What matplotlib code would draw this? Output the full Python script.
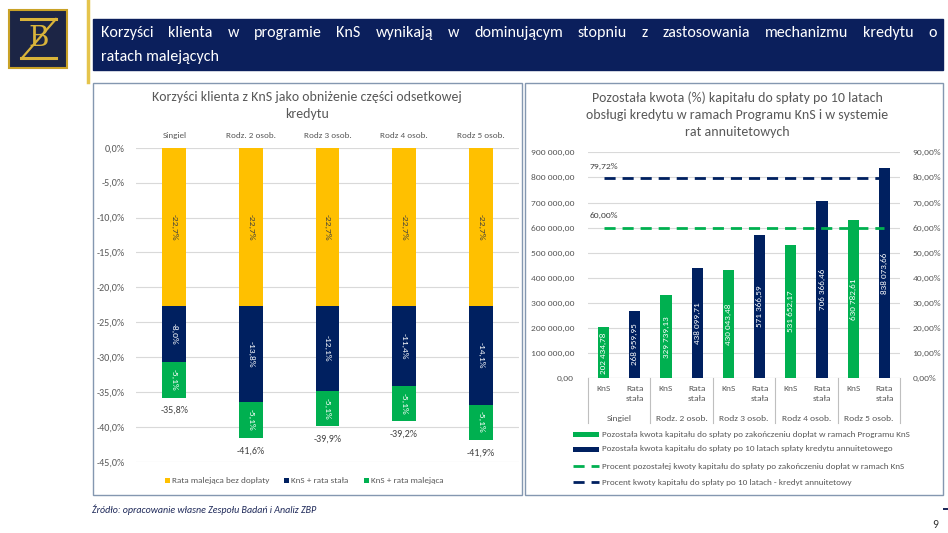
import matplotlib
matplotlib.use("Agg")
import matplotlib.pyplot as plt
from matplotlib import font_manager as fm
from matplotlib.patches import Rectangle
from matplotlib.lines import Line2D
import numpy as np

# ---------------- data ----------------
groups = ["Singiel", "Rodz. 2 osob.", "Rodz 3 osob.", "Rodz 4 osob.", "Rodz 5 osob."]
rata_malejaca_bez = [-22.7, -22.7, -22.7, -22.7, -22.7]
kns_rata_stala = [-8.0, -13.8, -12.1, -11.4, -14.1]
kns_rata_malejaca = [-5.1, -5.1, -5.1, -5.1, -5.1]
left_legend = ["Rata malejąca bez dopłaty", "KnS + rata stała", "KnS + rata malejąca"]

groups_right = ["Singiel", "Rodz. 2 osob.", "Rodz 3 osob.", "Rodz 4 osob.", "Rodz 5 osob."]
kns_kwota = [202434.78, 329739.13, 430043.48, 531652.17, 630782.61]
annuity_kwota = [268959.95, 438099.71, 571366.59, 706366.46, 838073.66]
pct_kns = [60.00] * 10
pct_annuity = [79.72] * 10
sub_labels = ["KnS", "Rata\nstała"]
right_legend = [
    "Pozostała kwota kapitału do spłaty po zakończeniu dopłat w ramach Programu KnS",
    "Pozostała kwota kapitału do spłaty po 10 latach spłaty kredytu annuitetowego",
    "Procent pozostałej kwoty kapitału do spłaty po zakończeniu dopłat w ramach KnS",
    "Procent kwoty kapitału do spłaty po 10 latach - kredyt annuitetowy",
]

title_main = ("Korzyści klienta w programie KnS wynikają w dominującym stopniu z zastosowania mechanizmu kredytu o",
              "ratach malejących")
title_left = "Korzyści klienta z KnS jako obniżenie części odsetkowej\nkredytu"
title_right = "Pozostała kwota (%) kapitału do spłaty po 10 latach\nobsługi kredytu w ramach Programu KnS i w systemie\nrat annuitetowych"
source = "Źródło: opracowanie własne Zespołu Badań i Analiz ZBP"
page_no = "9"

# ---------------- fonts / colours ----------------
def pick(names):
    for n in names:
        try:
            fm.findfont(fm.FontProperties(family=n), fallback_to_default=False)
            return n
        except Exception:
            pass
    return "DejaVu Sans"

FONT = pick(["Carlito", "Lato", "Open Sans"])
NARROW = pick(["Carlito", "Liberation Sans Narrow", "Lato"])
plt.rcParams["font.family"] = [FONT, "DejaVu Sans"]

YEL = "#FFC000"
NAVY = "#002060"
GREEN = "#00B050"
GRAY = "#595959"
GRID = "#D9D9D9"
BORDER = "#8497B0"

W, H = 948, 533
fig = plt.figure(figsize=(W / 100, H / 100), dpi=100)
fig.patch.set_facecolor("white")

def fx(x):
    return x / W

def fy(y):
    return 1 - y / H

def axes_px(x0, y0, x1, y1):
    return fig.add_axes([fx(x0), fy(y1), fx(x1 - x0), (y1 - y0) / H])

# ---------------- decorations ----------------
# logo
fig.patches.append(Rectangle((fx(9), fy(68)), fx(58), 58 / H, transform=fig.transFigure,
                             facecolor="#1C2545", edgecolor="#C9A227", lw=1.5))
fig.lines.append(Line2D([fx(21), fx(56)], [fy(19), fy(19)], transform=fig.transFigure, color="#D9B43A", lw=2.2))
fig.lines.append(Line2D([fx(56), fx(22)], [fy(19), fy(58)], transform=fig.transFigure, color="#D9B43A", lw=1.6))
fig.lines.append(Line2D([fx(21), fx(56)], [fy(58), fy(58)], transform=fig.transFigure, color="#D9B43A", lw=2.2))
fig.text(fx(39), fy(39), "B", color="#D9B43A", fontsize=20, family="DejaVu Serif",
         ha="center", va="center")
# gold vertical line
fig.lines.append(Line2D([fx(88), fx(88)], [fy(0), fy(82)], transform=fig.transFigure, color="#E5C44C", lw=2.5))

# banner
fig.patches.append(Rectangle((fx(93), fy(70)), fx(850), 51 / H, transform=fig.transFigure,
                             facecolor="#0B1F5C", edgecolor="#0B1F5C"))

fig.canvas.draw()
r = fig.canvas.get_renderer()
BS = 11.5
words = title_main[0].split()
ts = [fig.text(0, fy(33), w, color="white", fontsize=BS, family=NARROW, va="center") for w in words]
widths = [t.get_window_extent(r).width for t in ts]
x0, x1 = 101, 937
gap = (x1 - x0 - sum(widths)) / (len(words) - 1)
xx = x0
for t, w in zip(ts, widths):
    t.set_x(fx(xx))
    xx += w + gap
fig.text(fx(101), fy(57), title_main[1], color="white", fontsize=BS, family=NARROW, va="center")

# panels
for (a, b) in [(93, 522), (525, 943)]:
    fig.patches.append(Rectangle((fx(a), fy(495)), fx(b - a), (495 - 83) / H, transform=fig.transFigure,
                                 facecolor="none", edgecolor=BORDER, lw=1.0))

# footer
fig.text(fx(92), fy(510), source, fontsize=7.2, style="italic", color="#1F2A5A", va="center")
fig.text(fx(935), fy(524), page_no, fontsize=8.5, color="#333333", ha="center", va="center")
fig.patches.append(Rectangle((fx(943), fy(510)), fx(5), 2 / H, transform=fig.transFigure,
                             facecolor="#1F2A5A", edgecolor="none"))

# ---------------- left chart ----------------
axL = axes_px(136, 147.7, 519, 461.8)
x = np.arange(len(groups))
bw = 0.31
b1 = np.array(rata_malejaca_bez)
b2 = np.array(kns_rata_stala)
b3 = np.array(kns_rata_malejaca)
axL.bar(x, b1, bw, color=YEL, zorder=3, label=left_legend[0])
axL.bar(x, b2, bw, bottom=b1, color=NAVY, zorder=3, label=left_legend[1])
axL.bar(x, b3, bw, bottom=b1 + b2, color=GREEN, zorder=3, label=left_legend[2])

def pct1(v):
    return f"{v:.1f}%".replace(".", ",")

for i in range(len(groups)):
    axL.text(x[i], b1[i] / 2, pct1(b1[i]), rotation=-90, ha="center", va="center",
             fontsize=6.8, color="#404040", zorder=4)
    axL.text(x[i], b1[i] + b2[i] / 2, pct1(b2[i]), rotation=-90, ha="center", va="center",
             fontsize=6.8, color="white", zorder=4)
    axL.text(x[i], b1[i] + b2[i] + b3[i] / 2, pct1(b3[i]), rotation=-90, ha="center", va="center",
             fontsize=6.8, color="white", zorder=4)
    tot = b1[i] + b2[i] + b3[i]
    axL.annotate(pct1(tot), (x[i], tot), xytext=(0, -13), textcoords="offset pixels",
                 ha="center", va="center", fontsize=7.2, color="#404040")

axL.set_ylim(-45, 0)
axL.set_xlim(-0.5, len(groups) - 0.5)
axL.set_yticks(np.arange(-45, 0.1, 5))
axL.set_yticklabels([pct1(v) if v != 0 else "0,0%" for v in np.arange(-45, 0.1, 5)])
axL.tick_params(axis="y", length=0, labelsize=7.2, labelcolor=GRAY, pad=8)
axL.xaxis.tick_top()
axL.set_xticks(x)
axL.set_xticklabels(groups)
axL.tick_params(axis="x", length=0, labelsize=6.6, labelcolor=GRAY, pad=6)
axL.grid(axis="y", color=GRID, lw=0.8, zorder=0)
for s in axL.spines.values():
    s.set_visible(False)
axL.set_facecolor("none")
fig.text(fx(307), fy(105.5), title_left, ha="center", va="center", fontsize=10, color=GRAY,
         linespacing=1.5)

# left legend
leg_items = [(165, YEL, left_legend[0]), (284, NAVY, left_legend[1]), (364, GREEN, left_legend[2])]
for lx, c, lab in leg_items:
    fig.patches.append(Rectangle((fx(lx), fy(483)), fx(5), 5 / H, transform=fig.transFigure,
                                 facecolor=c, edgecolor="none"))
    fig.text(fx(lx + 7), fy(480.5), lab, fontsize=6.6, color=GRAY, va="center")

# ---------------- right chart ----------------
axR = axes_px(588, 152.3, 900, 378.3)
n = len(groups_right)
pos_k = np.arange(n) * 2
pos_a = np.arange(n) * 2 + 1
rw = 0.36
axR.bar(pos_k, kns_kwota, rw, color=GREEN, zorder=3)
axR.bar(pos_a, annuity_kwota, rw, color=NAVY, zorder=3)

def money(v):
    return f"{v:,.2f}".replace(",", " ").replace(".", ",")

for p, v in zip(pos_k, kns_kwota):
    axR.text(p, v / 2, money(v), rotation=90, ha="center", va="center", fontsize=6.6, color="white", zorder=4)
for p, v in zip(pos_a, annuity_kwota):
    axR.text(p, v / 2, money(v), rotation=90, ha="center", va="center", fontsize=6.6, color="white", zorder=4)

axR.set_ylim(0, 900000)
axR.set_xlim(-0.5, 2 * n - 0.5)
yt = np.arange(0, 900001, 100000)
axR.set_yticks(yt)
axR.set_yticklabels([money(v) for v in yt])
axR.tick_params(axis="y", length=0, labelsize=6.8, labelcolor=GRAY, pad=10)
axR.grid(axis="y", color=GRID, lw=0.8, zorder=0)
for s in axR.spines.values():
    s.set_visible(False)
axR.set_xticks([])
axR.axhline(0, color="#BFBFBF", lw=0.8, zorder=2)
axR.set_facecolor("none")

# multi-level x labels
trans = axR.get_xaxis_transform()
for i in range(2 * n):
    axR.annotate(sub_labels[i % 2], (i, 0), xycoords=trans, xytext=(0, -7), textcoords="offset pixels",
                 ha="center", va="top", fontsize=6.8, color=GRAY, linespacing=1.45, annotation_clip=False)
for g in range(n):
    axR.annotate(groups_right[g], (2 * g + 0.5, 0), xycoords=trans, xytext=(0, -40),
                 textcoords="offset pixels", ha="center", va="center", fontsize=6.8, color=GRAY,
                 annotation_clip=False)
for b in range(n + 1):
    axR.plot([2 * b - 0.5, 2 * b - 0.5], [0, -45 / 226], transform=trans, color="#BFBFBF",
             lw=0.8, clip_on=False)

axR2 = axR.twinx()
xs = np.arange(2 * n)
axR2.plot(xs[: len(pct_annuity)], pct_annuity, color=NAVY, lw=2, ls=(0, (4, 2.5)), zorder=5)
axR2.plot(xs[: len(pct_kns)], pct_kns, color=GREEN, lw=2, ls=(0, (4, 2.5)), zorder=5)
axR2.set_ylim(0, 90)
yt2 = np.arange(0, 91, 10)
axR2.set_yticks(yt2)
axR2.set_yticklabels([f"{v:.2f}%".replace(".", ",") for v in yt2])
axR2.tick_params(axis="y", length=0, labelsize=6.8, labelcolor=GRAY, pad=9)
for s in axR2.spines.values():
    s.set_visible(False)
axR2.annotate(f"{pct_annuity[0]:.2f}%".replace(".", ","), (0, pct_annuity[0]), xytext=(0, 12),
              textcoords="offset pixels", ha="center", va="center", fontsize=6.8, color="#404040")
axR2.annotate(f"{pct_kns[0]:.2f}%".replace(".", ","), (0, pct_kns[0]), xytext=(0, 12),
              textcoords="offset pixels", ha="center", va="center", fontsize=6.8, color="#404040")

fig.text(fx(737), fy(115), title_right, ha="center", va="center", fontsize=10, color=GRAY,
         linespacing=1.5)

# right legend
rows = [434, 449, 466, 482]
for k, (yy, lab) in enumerate(zip(rows, right_legend)):
    if k < 2:
        c = GREEN if k == 0 else NAVY
        fig.patches.append(Rectangle((fx(573), fy(yy + 2.5)), fx(26), 5 / H, transform=fig.transFigure,
                                     facecolor=c, edgecolor="none"))
    else:
        c = GREEN if k == 2 else NAVY
        fig.lines.append(Line2D([fx(573), fx(599)], [fy(yy), fy(yy)], transform=fig.transFigure,
                                color=c, lw=2, ls=(0, (4, 2.5))))
    fig.text(fx(602), fy(yy), lab, fontsize=6.6, color=GRAY, va="center")

fig.savefig("out.png", dpi=100)
